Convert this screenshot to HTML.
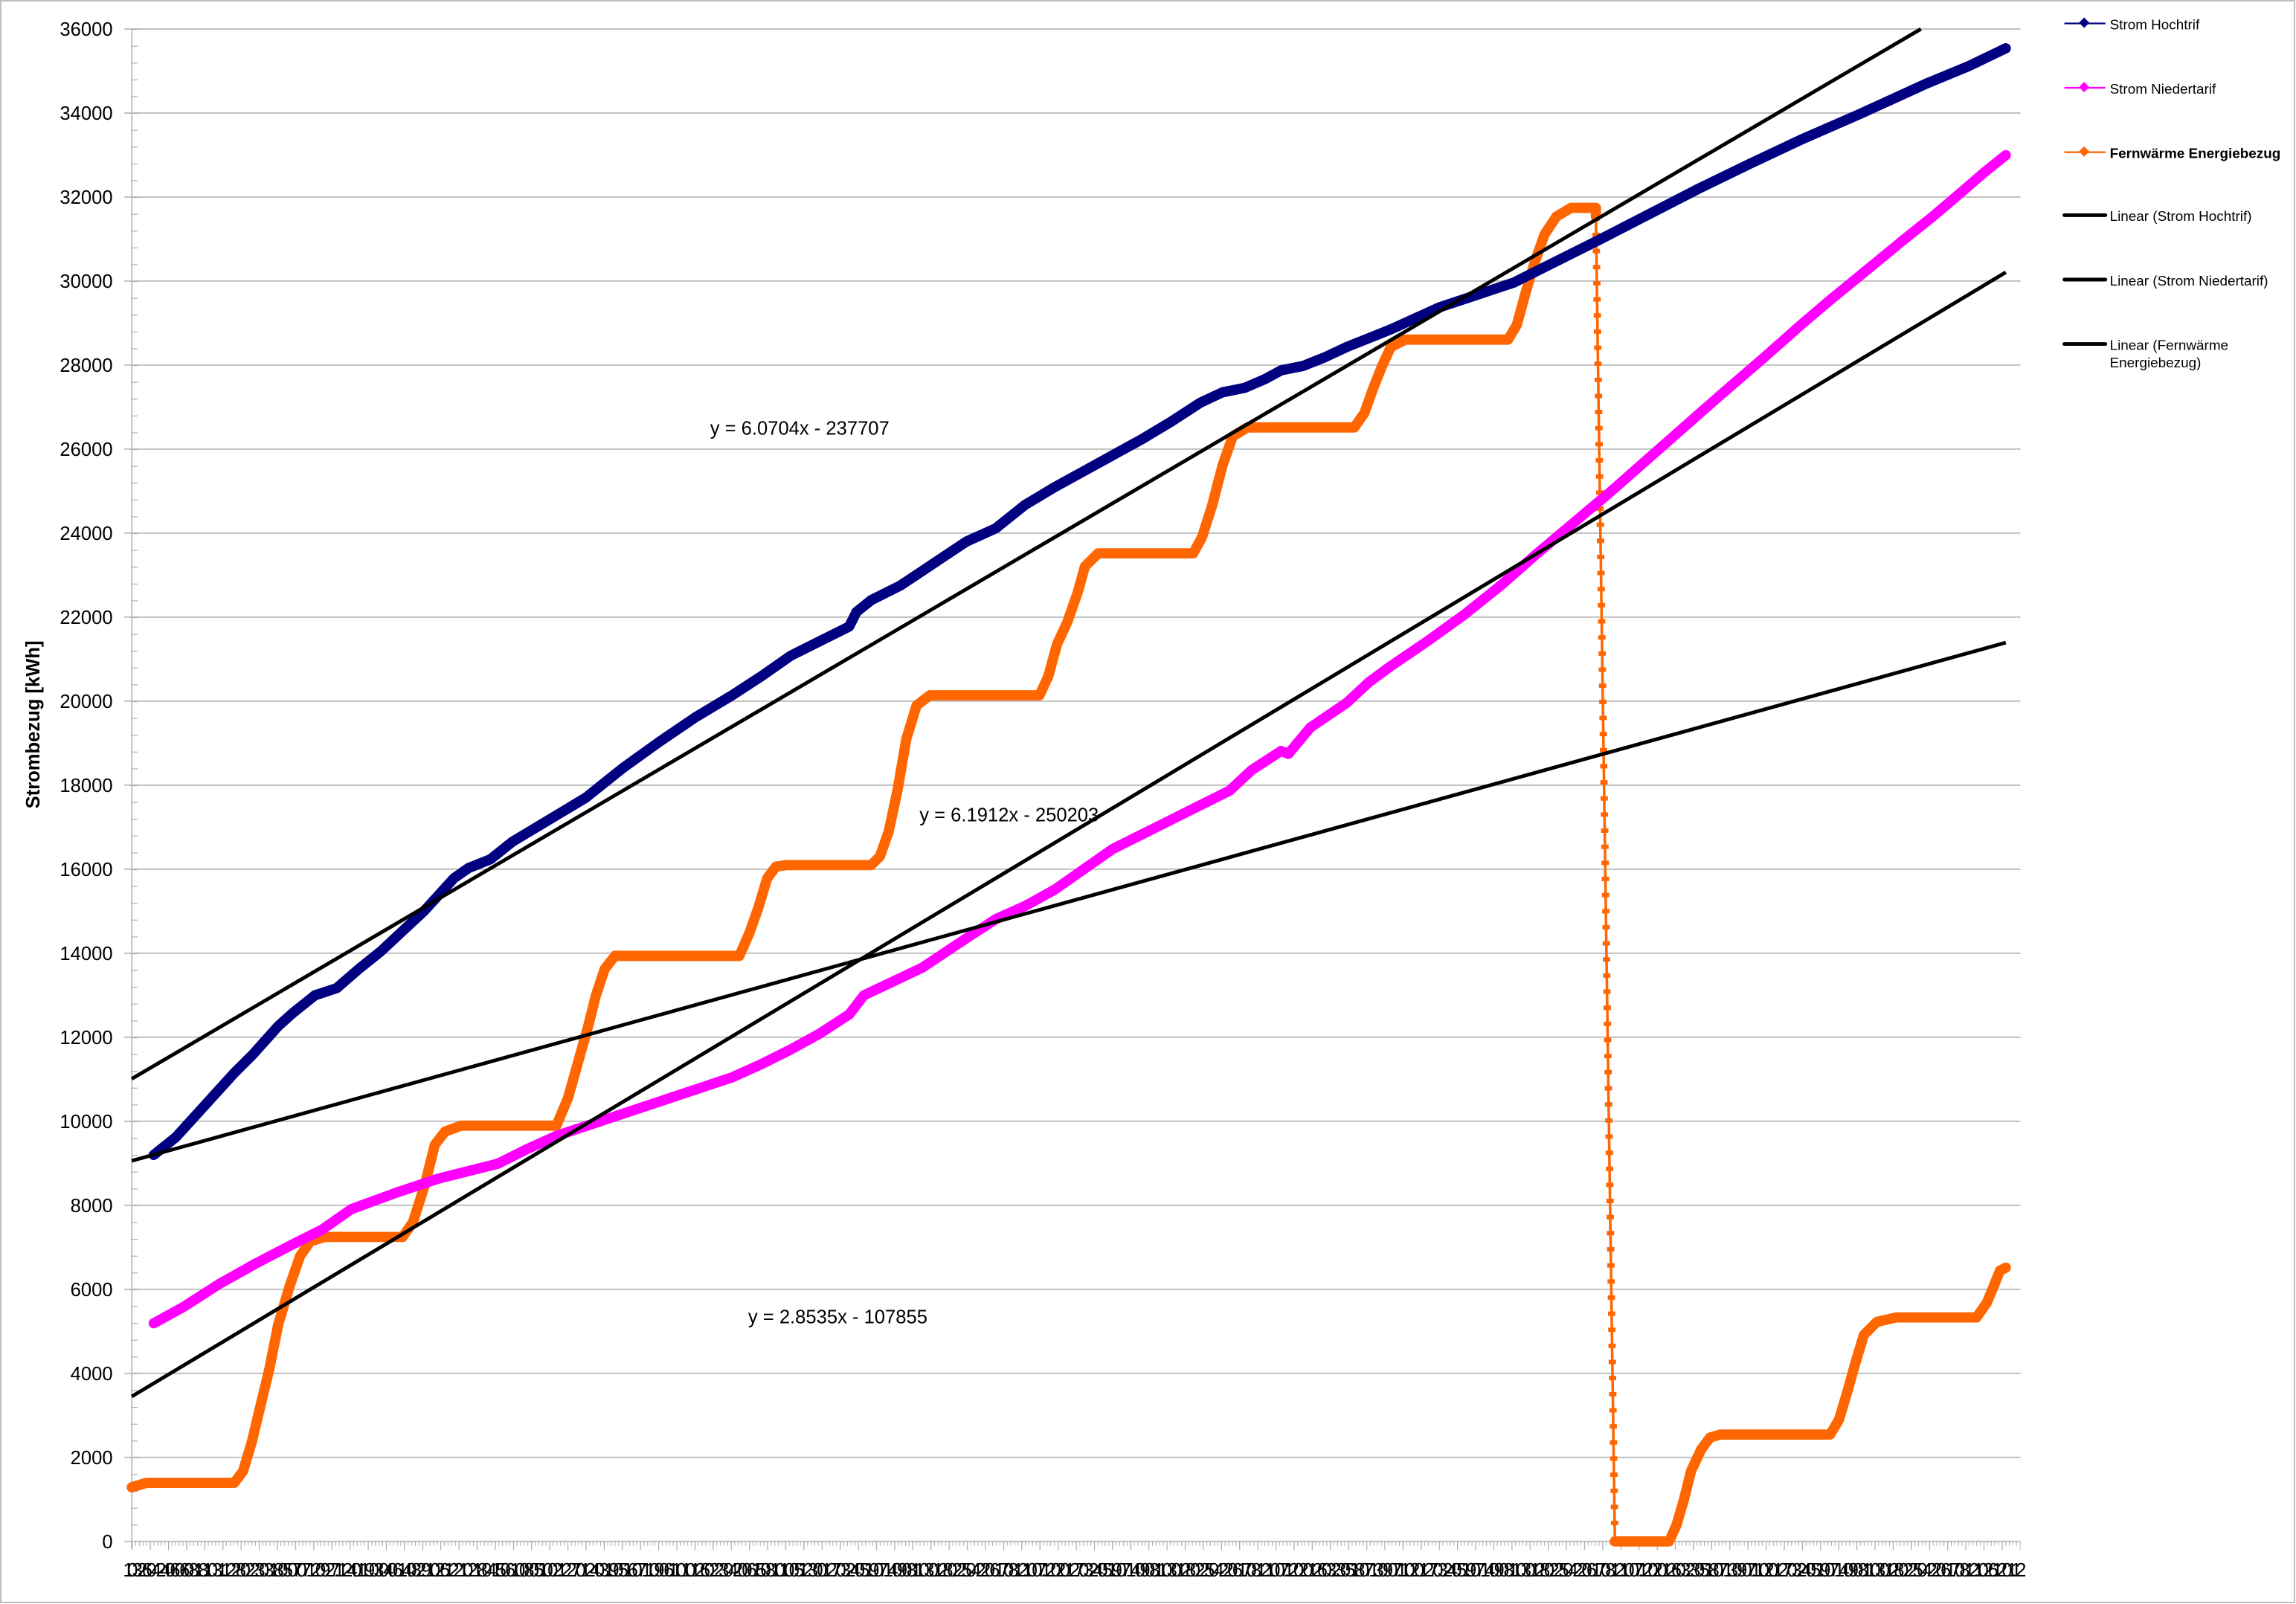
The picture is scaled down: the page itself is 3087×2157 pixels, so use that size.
<!DOCTYPE html>
<html><head><meta charset="utf-8"><style>
html,body{margin:0;padding:0;background:#fff}
svg{display:block}
text{font-family:"Liberation Sans",sans-serif}
</style></head><body>
<svg width="3087" height="2157" viewBox="0 0 3087 2157" xmlns="http://www.w3.org/2000/svg">
<rect x="1" y="1" width="3084" height="2154" fill="#fff" stroke="#bfbfbf" stroke-width="2"/>
<defs>
<pattern id="minx" x="90" y="0" width="2.48" height="10" patternUnits="userSpaceOnUse"><rect x="0" y="0" width="0.5" height="10" fill="#aaa"/></pattern>
<pattern id="majx" x="90" y="0" width="12.4" height="10" patternUnits="userSpaceOnUse"><rect x="0" y="0" width="0.6" height="10" fill="#aaa"/></pattern>
<pattern id="miny" x="0" y="19.8" width="10" height="11.48" patternUnits="userSpaceOnUse"><rect x="0" y="0" width="10" height="0.6" fill="#aaa"/></pattern>
</defs>
<g transform="scale(1.9685)">
<g stroke="#c0c0c0" stroke-width="1">
<line x1="85" y1="19.8" x2="1380" y2="19.8"/><line x1="85" y1="77.2" x2="1380" y2="77.2"/><line x1="85" y1="134.6" x2="1380" y2="134.6"/><line x1="85" y1="192" x2="1380" y2="192"/><line x1="85" y1="249.4" x2="1380" y2="249.4"/><line x1="85" y1="306.8" x2="1380" y2="306.8"/><line x1="85" y1="364.2" x2="1380" y2="364.2"/><line x1="85" y1="421.6" x2="1380" y2="421.6"/><line x1="85" y1="479" x2="1380" y2="479"/><line x1="85" y1="536.4" x2="1380" y2="536.4"/><line x1="85" y1="593.8" x2="1380" y2="593.8"/><line x1="85" y1="651.2" x2="1380" y2="651.2"/><line x1="85" y1="708.6" x2="1380" y2="708.6"/><line x1="85" y1="766" x2="1380" y2="766"/><line x1="85" y1="823.4" x2="1380" y2="823.4"/><line x1="85" y1="880.8" x2="1380" y2="880.8"/><line x1="85" y1="938.2" x2="1380" y2="938.2"/><line x1="85" y1="995.6" x2="1380" y2="995.6"/><line x1="85" y1="1053" x2="1380" y2="1053"/>
<line x1="90" y1="19.8" x2="90" y2="1058"/>
</g>
<rect x="90" y="19.8" width="4" height="1033" fill="url(#miny)"/>
<rect x="90" y="1053" width="1290" height="3" fill="url(#minx)"/>
<rect x="90" y="1053" width="1290" height="6" fill="url(#majx)"/>
<g font-size="13" text-anchor="end" fill="#000">
<text x="77" y="24.5">36000</text><text x="77" y="81.9">34000</text><text x="77" y="139.3">32000</text><text x="77" y="196.7">30000</text><text x="77" y="254.1">28000</text><text x="77" y="311.5">26000</text><text x="77" y="368.9">24000</text><text x="77" y="426.3">22000</text><text x="77" y="483.7">20000</text><text x="77" y="541.1">18000</text><text x="77" y="598.5">16000</text><text x="77" y="655.9">14000</text><text x="77" y="713.3">12000</text><text x="77" y="770.7">10000</text><text x="77" y="828.1">8000</text><text x="77" y="885.5">6000</text><text x="77" y="942.9">4000</text><text x="77" y="1000.3">2000</text><text x="77" y="1057.7">0</text>
</g>
<text transform="translate(27,495) rotate(-90)" font-size="13" font-weight="bold" text-anchor="middle">Strombezug [kWh]</text>
<text x="84" y="1077" font-size="13" textLength="1300" lengthAdjust="spacing">1.0326.0424.0606.0818.1031.1228.0223.0318.0507.0712.0927.1124.0119.0304.0614.0829.1026.1221.0218.0415.0610.0805.1002.1227.0124.0319.0516.0711.0906.1101.0126.0223.0420.0615.0810.1005.1230.0127.0324.0519.0714.0908.1103.0128.0225.0422.0617.0812.1007.1202.0127.0324.0519.0714.0908.1103.0128.0225.0422.0617.0812.1007.1202.0126.0323.0518.0713.0907.1102.0127.0324.0519.0714.0908.1103.0128.0225.0422.0617.0812.1007.1202.0126.0323.0518.0713.0907.1102.0127.0324.0519.0714.0908.1103.0128.0225.0422.0617.0812.1026.1201.12</text>
<polyline fill="none" stroke="#ff6600" stroke-width="7" stroke-linejoin="round" stroke-linecap="round" points="90,1016 100,1013 160,1013 166,1005 172,985 178,960 184,935 190,905 198,878 205,858 212,848 222,845 275,845 282,835 290,810 297,782 304,773 315,769 380,769 388,750 395,725 402,700 407,680 413,662 420,653 505,653 512,637 518,620 524,600 530,592 537,591 595,591 601,585 607,568 613,540 619,505 626,482 635,475 710,475 716,462 722,440 729,425 736,405 741,387 750,378 815,378 821,367 828,345 835,318 842,298 852,292 925,292 932,282 938,265 944,250 950,237 960,232 1030,232 1036,222 1042,200 1048,180 1055,160 1063,148 1073,142 1090,142 1090,148"/>
<line x1="1090" y1="148" x2="1103" y2="1053" stroke="#ff6600" stroke-width="1.8"/>
<line x1="1090" y1="148" x2="1103" y2="1053" stroke="#ff6600" stroke-width="5" stroke-dasharray="3 8"/>
<polyline fill="none" stroke="#ff6600" stroke-width="7" stroke-linejoin="round" stroke-linecap="round" points="1103,1053 1140,1053 1145,1042 1150,1025 1155,1005 1162,990 1168,982 1175,980 1250,980 1256,970 1262,950 1267,932 1273,912 1282,903 1295,900 1350,900 1357,890 1362,878 1366,868 1370,866"/>
<polyline fill="none" stroke="#ff00ff" stroke-width="7" stroke-linejoin="round" stroke-linecap="round" points="105,904 125,893 150,877 175,863 200,850 220,840 240,826 270,815 300,805 340,795 360,785 380,776 410,766 440,756 470,746 500,736 520,727 540,717 560,706 580,693 590,680 630,661 660,641 680,628 700,619 720,608 740,594 760,580 780,570 800,560 820,550 840,540 855,526 875,513 880,515 895,497 920,480 935,466 950,455 975,438 1000,420 1025,400 1050,378 1075,357 1100,336 1125,314 1150,292 1175,270 1204,245 1230,222 1250,205 1272,187 1300,164 1320,148 1340,131 1355,118 1370,106"/>
<polyline fill="none" stroke="#000080" stroke-width="7" stroke-linejoin="round" stroke-linecap="round" points="105,789 120,777 130,766 140,755 150,744 160,733 173,720 190,701 200,692 215,680 230,675 245,662 260,650 275,636 290,622 300,611 310,600 320,593 335,587 350,575 375,560 400,545 425,525 450,507 475,490 500,475 520,462 540,448 560,438 580,428 585,418 595,410 615,400 630,390 645,380 660,370 680,361 700,345 720,333 740,322 760,311 780,300 800,288 820,275 835,268 850,265 864,259 875,253 890,250 905,244 920,237 950,225 983,210 1010,201 1034,193 1060,180 1092,164 1125,147 1160,129 1195,112 1231,95 1270,78 1316,57 1345,45 1370,33"/>
<g stroke="#000" stroke-width="2.5">
<line x1="90" y1="737" x2="1312" y2="19.8"/>
<line x1="90" y1="954" x2="1370" y2="186"/>
<line x1="90" y1="793" x2="1370" y2="439"/>
</g>
<g font-size="13" fill="#000">
<text x="485" y="297">y = 6.0704x - 237707</text>
<text x="628" y="561">y = 6.1912x - 250203</text>
<text x="511" y="904">y = 2.8535x - 107855</text>
</g>
<g font-size="9.6" fill="#000">
<line x1="1410" y1="16" x2="1438" y2="16" stroke="#000080" stroke-width="1.2"/><rect x="1421" y="13" width="5" height="5" transform="rotate(45 1423.5 15.5)" fill="#000080"/>
<text x="1441" y="20">Strom Hochtrif</text>
<line x1="1410" y1="60" x2="1438" y2="60" stroke="#ff00ff" stroke-width="1.2"/><rect x="1421" y="57" width="5" height="5" transform="rotate(45 1423.5 59.5)" fill="#ff00ff"/>
<text x="1441" y="64">Strom Niedertarif</text>
<line x1="1410" y1="104" x2="1438" y2="104" stroke="#ff6600" stroke-width="1.2"/><rect x="1421" y="101" width="5" height="5" transform="rotate(45 1423.5 103.5)" fill="#ff6600"/>
<text x="1441" y="108" font-weight="bold">Fernwärme Energiebezug</text>
<line x1="1410" y1="147" x2="1438" y2="147" stroke="#000" stroke-width="2.5" stroke-linecap="round"/>
<text x="1441" y="151">Linear (Strom Hochtrif)</text>
<line x1="1410" y1="191" x2="1438" y2="191" stroke="#000" stroke-width="2.5" stroke-linecap="round"/>
<text x="1441" y="195">Linear (Strom Niedertarif)</text>
<line x1="1410" y1="235" x2="1438" y2="235" stroke="#000" stroke-width="2.5" stroke-linecap="round"/>
<text x="1441" y="239">Linear (Fernwärme</text>
<text x="1441" y="251">Energiebezug)</text>
</g>
</g>
</svg>
</body></html>
